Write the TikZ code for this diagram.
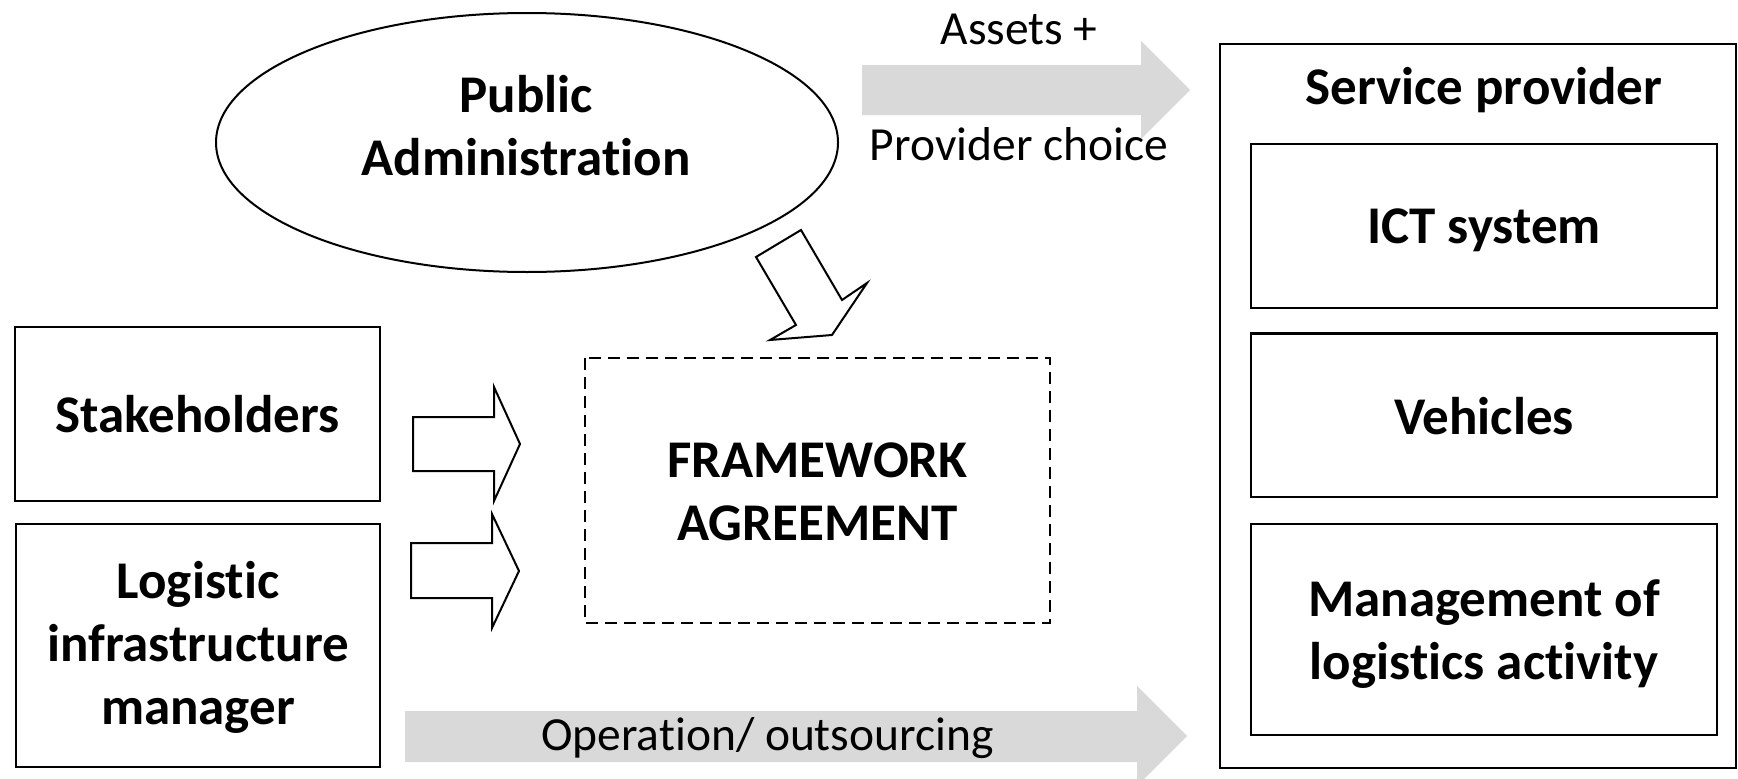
\documentclass[tikz,border=0pt]{standalone}
\usepackage{fontspec}
\setmainfont{Carlito}[Ligatures=NoCommon]
\usetikzlibrary{calc}
\definecolor{arrowgrey}{RGB}{217,217,217}
\begin{document}
\begin{tikzpicture}[x=1pt,y=-1pt,
  boxline/.style={draw=black,line width=2.3pt},
  framebox/.style={draw=black,line width=2pt,dash pattern=on 12pt off 7pt},
  bt/.style={font=\bfseries\fontsize{53}{63}\selectfont,anchor=base,inner sep=0pt},
  rt/.style={font=\fontsize{47.5}{56}\selectfont,anchor=base,inner sep=0pt},
  greyarrow/.style={fill=arrowgrey,draw=none},
  hollowarrow/.style={draw=black,fill=white,line width=2pt,line join=miter}]
\useasboundingbox (0,0) rectangle (1738,779);
\clip (0,0) rectangle (1738,779);

% Public administration ellipse
\draw[line width=2pt] (527,142.5) ellipse [x radius=311, y radius=129.5];
\coordinate (pa) at (527,142.5);
\node[bt] (pa1) at (526,112) {Public};
\node[bt] (pa2) at (526,175) {Administration};

% Top grey arrow
\coordinate (ta) at (862,65);
\fill[greyarrow] (ta) -- (1141,65) -- (1141,41) -- (1190,90) -- (1141,139) -- (1141,115) -- (862,115) -- cycle;
\node[rt] (assets) at (1019,44) {Assets +};
\node[rt] (choice) at (1019,160) {Provider choice};

% Service provider
\draw[boxline] (1220,44) rectangle (1736,768);
\coordinate (sp) at (1478,406);
\node[bt] (sptext) at (1484,104) {Service provider};
\draw[boxline] (1251,144) rectangle (1717,308);
\node[bt] (ict) at (1484,243) {ICT system};
\draw[boxline] (1251,333.5) rectangle (1717,497);
\node[bt] (veh) at (1484,434) {Vehicles};
\draw[boxline] (1251,524) rectangle (1717,735);
\node[bt] (mg1) at (1484,616) {Management of};
\node[bt] (mg2) at (1484,679) {logistics activity};

% Down arrow
\draw[hollowarrow] (756,257) -- (801,230) -- (842,300) -- (867,283) -- (832,335) -- (770,340) -- (796,325) -- cycle;

% Framework
\draw[framebox] (585,358) rectangle (1050,623);
\node[bt] (fw1) at (817.5,477) {FRAMEWORK};
\node[bt] (fw2) at (817.5,540) {AGREEMENT};

% Left boxes
\draw[boxline] (15,327) rectangle (380,501);
\node[bt] (sh) at (197.5,432) {Stakeholders};
\draw[boxline] (16,524) rectangle (380,767);
\node[bt] (lg1) at (198,598) {Logistic};
\node[bt] (lg2) at (198,661) {infrastructure};
\node[bt] (lg3) at (198,724) {manager};

% Hollow arrows
\draw[hollowarrow] (413,417) -- (494,417) -- (494,387) -- (520,444) -- (494,501) -- (494,471) -- (413,471) -- cycle;
\draw[hollowarrow] (411,543) -- (492,543) -- (492,514) -- (519,571) -- (492,628) -- (492,598) -- (411,598) -- cycle;

% Bottom grey arrow
\fill[greyarrow] (405,711) -- (1137,711) -- (1137,686) -- (1187,736) -- (1137,786) -- (1137,762) -- (405,762) -- cycle;
\node[rt] (op) at (767.5,750) {Operation/ outsourcing};
\end{tikzpicture}
\end{document}
